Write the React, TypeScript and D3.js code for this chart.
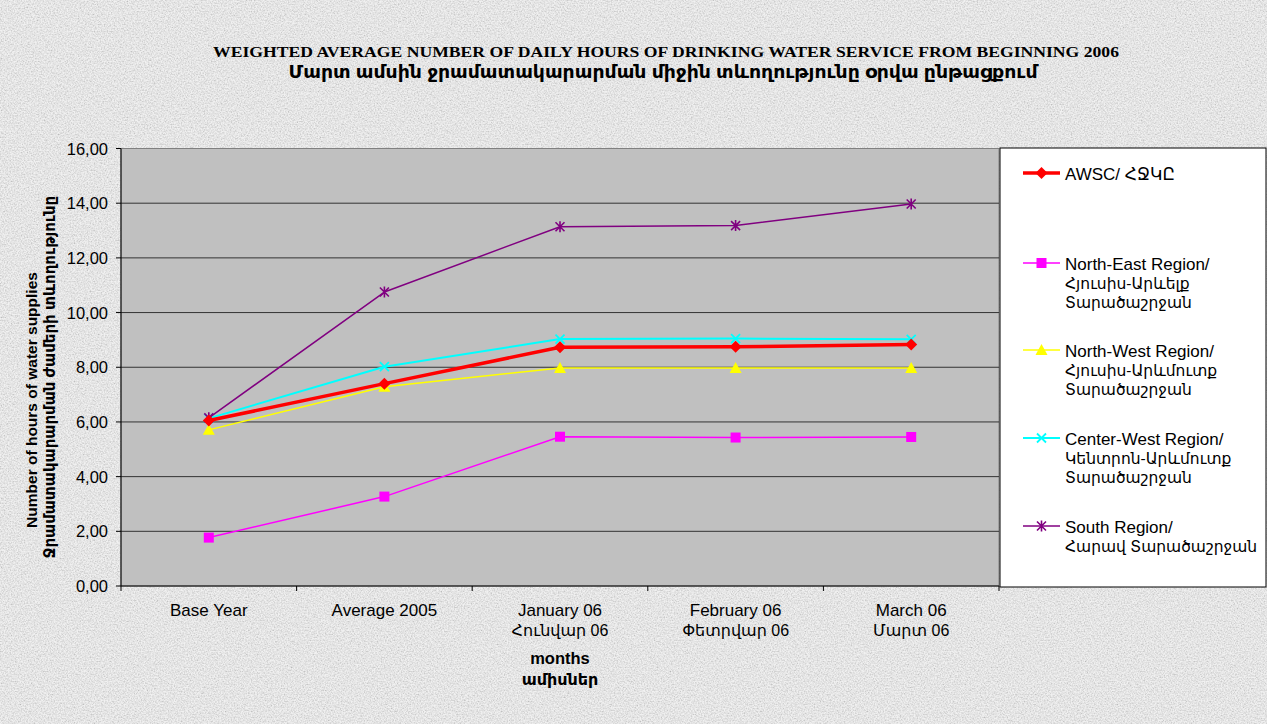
import React from "react";
import * as d3 from "d3";

const categories = ["Base Year", "Average 2005", "January 06", "February 06", "March 06"];
const categories2 = ["", "", "Հունվար 06", "Փետրվար 06", "Մարտ 06"];
const yTicks = [0, 2, 4, 6, 8, 10, 12, 14, 16];

const awsc = [6.05, 7.4, 8.73, 8.75, 8.83];
const northEast = [1.77, 3.27, 5.46, 5.43, 5.45];
const northWest = [5.71, 7.29, 7.97, 7.97, 7.97];
const centerWest = [6.13, 8.02, 9.03, 9.05, 9.02];
const south = [6.15, 10.75, 13.14, 13.18, 13.97];

const seriesNames = [
  ["AWSC/ ՀՋԿԸ"],
  ["North-East Region/", "Հյուսիս-Արևելք", "Տարածաշրջան"],
  ["North-West Region/", "Հյուսիս-Արևմուտք", "Տարածաշրջան"],
  ["Center-West Region/", "Կենտրոն-Արևմուտք", "Տարածաշրջան"],
  ["South Region/", "Հարավ Տարածաշրջան"],
];

type Marker = "diamond" | "square" | "triangle" | "x" | "star";
const series: { values: number[]; color: string; width: number; marker: Marker }[] = [
  { values: northEast, color: "#ff00ff", width: 1.5, marker: "square" },
  { values: northWest, color: "#ffff00", width: 1.5, marker: "triangle" },
  { values: centerWest, color: "#00ffff", width: 2, marker: "x" },
  { values: south, color: "#800080", width: 1.5, marker: "star" },
  { values: awsc, color: "#ff0000", width: 3.5, marker: "diamond" },
];
const legendOrder = [4, 0, 1, 2, 3];

const FONT = "'Liberation Sans', Arial, 'DejaVu Sans', sans-serif";
const isArmenian = (t: string) => /[\u0530-\u058F]/.test(t) && !/[A-Za-z]{3}/.test(t);

function MarkerShape({ type, x, y, color }: { type: Marker; x: number; y: number; color: string }) {
  if (type === "diamond") {
    const s = 6;
    return <path d={`M${x},${y - s}L${x + s},${y}L${x},${y + s}L${x - s},${y}Z`} fill={color} />;
  }
  if (type === "square") {
    return <rect x={x - 5} y={y - 5} width={10} height={10} fill={color} />;
  }
  if (type === "triangle") {
    return <path d={`M${x},${y - 6}L${x + 6},${y + 5}L${x - 6},${y + 5}Z`} fill={color} />;
  }
  if (type === "x") {
    const s = 4.5;
    return (
      <path d={`M${x - s},${y - s}L${x + s},${y + s}M${x - s},${y + s}L${x + s},${y - s}`} stroke={color} strokeWidth={1.8} />
    );
  }
  const s = 4.5;
  return (
    <path
      d={`M${x - s},${y - s}L${x + s},${y + s}M${x - s},${y + s}L${x + s},${y - s}M${x},${y - s - 1}L${x},${y + s + 1}`}
      stroke={color}
      strokeWidth={1.6}
    />
  );
}

export default function App() {
  const W = 1267;
  const H = 724;
  const left = 121;
  const right = 999;
  const top = 148.5;
  const bottom = 586;

  const x = d3.scaleBand<string>().domain(categories).range([left, right]);
  const y = d3.scaleLinear().domain([0, 16]).range([bottom, top]);
  const cx = (c: string) => (x(c) as number) + x.bandwidth() / 2;

  const line = d3
    .line<number>()
    .x((_, i) => cx(categories[i]))
    .y((d) => y(d));

  const legendY = [173, 263, 350, 438, 526];

  return (
    <svg width={W} height={H} style={{ position: "absolute", left: 0, top: 0 }}>
      <defs>
        <filter id="marble" x="0" y="0" width="100%" height="100%">
          <feTurbulence type="fractalNoise" baseFrequency="0.7" numOctaves="3" seed="7" result="n" />
          <feColorMatrix
            in="n"
            type="matrix"
            values="1.4 0 0 0 0  1.4 0 0 0 0  1.4 0 0 0 0  0 0 0 0 0.35"
          />
        </filter>
      </defs>
      <rect x={0} y={0} width={W} height={H} fill="#eaeaea" />
      <rect x={0} y={0} width={W} height={H} fill="#fff" filter="url(#marble)" />

      {/* Title */}
      <text
        x={666}
        y={57}
        textAnchor="middle"
        fontFamily="'Liberation Serif', 'Times New Roman', serif"
        fontWeight="bold"
        fontSize={15.5}
        textLength={906}
        lengthAdjust="spacingAndGlyphs"
        fill="#000"
      >
        WEIGHTED AVERAGE NUMBER OF DAILY HOURS OF DRINKING WATER SERVICE FROM BEGINNING 2006
      </text>
      <text
        x={663}
        y={78}
        textAnchor="middle"
        fontFamily={FONT}
        fontSize={18}
        fontWeight="bold"
        textLength={749}
        lengthAdjust="spacingAndGlyphs"
        fill="#000"
      >
        Մարտ  ամսին ջրամատակարարման միջին տևողությունը օրվա ընթացքում
      </text>

      {/* Plot area */}
      <rect x={left} y={top} width={right - left} height={bottom - top} fill="#c0c0c0" stroke="#808080" strokeWidth={1} />
      {yTicks.slice(1, -1).map((t) => (
        <line key={t} x1={left} x2={right} y1={y(t)} y2={y(t)} stroke="#333" strokeWidth={1} />
      ))}

      {/* Y axis */}
      <line x1={left} x2={left} y1={top} y2={bottom} stroke="#000" strokeWidth={1} />
      {yTicks.map((t) => (
        <g key={t}>
          <line x1={left - 5} x2={left} y1={y(t)} y2={y(t)} stroke="#000" />
          <text x={108} y={y(t) + 6} textAnchor="end" fontFamily={FONT} fontSize={16.5} fill="#000">
            {d3.format(".2f")(t).replace(".", ",")}
          </text>
        </g>
      ))}

      {/* X axis */}
      <line x1={left} x2={right} y1={bottom} y2={bottom} stroke="#000" strokeWidth={1} />
      {categories.map((c) => (
        <line key={c} x1={x(c) as number} x2={x(c) as number} y1={bottom} y2={bottom + 5} stroke="#000" />
      ))}
      <line x1={right} x2={right} y1={bottom} y2={bottom + 5} stroke="#000" />
      {categories.map((c, i) => (
        <g key={c}>
          <text x={cx(c)} y={616} textAnchor="middle" fontFamily={FONT} fontSize={17} fill="#000">
            {c}
          </text>
          {categories2[i] && (
            <text x={cx(c)} y={636} textAnchor="middle" fontFamily={FONT} fontSize={16} fill="#000">
              {categories2[i]}
            </text>
          )}
        </g>
      ))}
      <text x={560} y={664} textAnchor="middle" fontFamily={FONT} fontWeight="bold" fontSize={16.5} fill="#000">
        months
      </text>
      <text x={560} y={685} textAnchor="middle" fontFamily={FONT} fontWeight="bold" fontSize={16} fill="#000">
        ամիսներ
      </text>

      {/* Y title */}
      <text
        transform={`translate(37,400) rotate(-90)`}
        textAnchor="middle"
        fontFamily={FONT}
        fontWeight="bold"
        fontSize={15.5}
        fill="#000"
      >
        Number of hours of water supplies
      </text>
      <text
        transform={`translate(55,377) rotate(-90)`}
        textAnchor="middle"
        fontFamily={FONT}
        fontWeight="bold"
        fontSize={15}
        fill="#000"
      >
        Ջրամատակարարման ժամերի տևողությունը
      </text>

      {/* Series */}
      {series.map((s, si) => (
        <g key={si}>
          <path d={line(s.values) || ""} fill="none" stroke={s.color} strokeWidth={s.width} strokeLinejoin="round" />
          {s.values.map((v, i) => (
            <MarkerShape key={i} type={s.marker} x={cx(categories[i])} y={y(v)} color={s.color} />
          ))}
        </g>
      ))}

      {/* Legend */}
      <rect x={1000} y={148} width={266} height={439} fill="#fff" stroke="#000" strokeWidth={1} />
      {legendOrder.map((si, li) => {
        const s = series[si];
        const ly = legendY[li];
        return (
          <g key={li}>
            <line x1={1023} x2={1060} y1={ly} y2={ly} stroke={s.color} strokeWidth={s.width} />
            <MarkerShape type={s.marker} x={1041.5} y={ly} color={s.color} />
            {seriesNames[li].map((t, k) => (
              <text
                key={k}
                x={1065}
                y={ly + 7 + k * 19}
                fontFamily={FONT}
                fontSize={k > 0 && isArmenian(t) ? 15.5 : 17}
                fill="#000"
              >
                {t}
              </text>
            ))}
          </g>
        );
      })}
    </svg>
  );
}
